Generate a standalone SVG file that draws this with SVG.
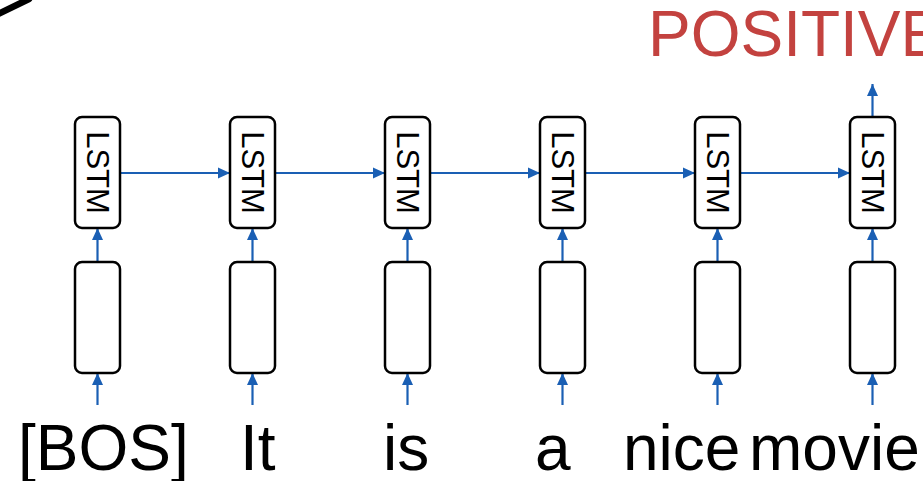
<svg xmlns="http://www.w3.org/2000/svg" width="923" height="481" viewBox="0 0 923 481">
  <style>
    .box { fill: #fff; stroke: #000; stroke-width: 2.5; }
    .lbl { font-family: "Liberation Sans", Arial, sans-serif; font-size: 31px; fill: #000; text-anchor: middle; dominant-baseline: central; }
    .word { font-family: "Liberation Sans", Arial, sans-serif; font-size: 64px; fill: #000; }
    .out { font-family: "Liberation Sans", Arial, sans-serif; font-size: 64px; fill: #c3423f; }
    .link { stroke: #1a5fb4; stroke-width: 2.2; fill: none; marker-end: url(#arr); }
  </style>
  <defs>
    <marker id="arr" markerUnits="userSpaceOnUse" markerWidth="12" markerHeight="12" viewBox="0 0 12 12" refX="12" refY="6" orient="auto">
      <path d="M0,0.5 L12,6 L0,11.5 Z" fill="#1a5fb4"/>
    </marker>
  </defs>
  <rect width="923" height="481" fill="#fff"/>

  <!-- pen stroke in the corner -->
  <path d="M-2,14 L29,-1" stroke="#000" stroke-width="6.5" fill="none" stroke-linecap="round"/>

  <!-- output label -->
  <text class="out" x="648" y="56">POSITIVE</text>

  <!-- connectors -->
  <g id="connectors">
    <line class="link" x1="97.5" y1="405" x2="97.5" y2="373"/>
    <line class="link" x1="252.5" y1="405" x2="252.5" y2="373"/>
    <line class="link" x1="407.5" y1="405" x2="407.5" y2="373"/>
    <line class="link" x1="562.5" y1="405" x2="562.5" y2="373"/>
    <line class="link" x1="717.5" y1="405" x2="717.5" y2="373"/>
    <line class="link" x1="872.5" y1="405" x2="872.5" y2="373"/>

    <line class="link" x1="97.5" y1="262" x2="97.5" y2="228"/>
    <line class="link" x1="252.5" y1="262" x2="252.5" y2="228"/>
    <line class="link" x1="407.5" y1="262" x2="407.5" y2="228"/>
    <line class="link" x1="562.5" y1="262" x2="562.5" y2="228"/>
    <line class="link" x1="717.5" y1="262" x2="717.5" y2="228"/>
    <line class="link" x1="872.5" y1="262" x2="872.5" y2="228"/>

    <line class="link" x1="120" y1="173" x2="230" y2="173"/>
    <line class="link" x1="275" y1="173" x2="385" y2="173"/>
    <line class="link" x1="430" y1="173" x2="540" y2="173"/>
    <line class="link" x1="585" y1="173" x2="695" y2="173"/>
    <line class="link" x1="740" y1="173" x2="850" y2="173"/>

    <line class="link" x1="872.5" y1="117" x2="872.5" y2="84"/>
  </g>

  <!-- LSTM cells -->
  <g id="lstm0"><rect class="box" x="75" y="117" width="45" height="111" rx="7"/><text class="lbl" transform="translate(97.5,172.5) rotate(90)">LSTM</text></g>
  <g id="lstm1"><rect class="box" x="230" y="117" width="45" height="111" rx="7"/><text class="lbl" transform="translate(252.5,172.5) rotate(90)">LSTM</text></g>
  <g id="lstm2"><rect class="box" x="385" y="117" width="45" height="111" rx="7"/><text class="lbl" transform="translate(407.5,172.5) rotate(90)">LSTM</text></g>
  <g id="lstm3"><rect class="box" x="540" y="117" width="45" height="111" rx="7"/><text class="lbl" transform="translate(562.5,172.5) rotate(90)">LSTM</text></g>
  <g id="lstm4"><rect class="box" x="695" y="117" width="45" height="111" rx="7"/><text class="lbl" transform="translate(717.5,172.5) rotate(90)">LSTM</text></g>
  <g id="lstm5"><rect class="box" x="850" y="117" width="45" height="111" rx="7"/><text class="lbl" transform="translate(872.5,172.5) rotate(90)">LSTM</text></g>

  <!-- embedding cells -->
  <g id="emb0"><rect class="box" x="75" y="262" width="45" height="111" rx="7"/></g>
  <g id="emb1"><rect class="box" x="230" y="262" width="45" height="111" rx="7"/></g>
  <g id="emb2"><rect class="box" x="385" y="262" width="45" height="111" rx="7"/></g>
  <g id="emb3"><rect class="box" x="540" y="262" width="45" height="111" rx="7"/></g>
  <g id="emb4"><rect class="box" x="695" y="262" width="45" height="111" rx="7"/></g>
  <g id="emb5"><rect class="box" x="850" y="262" width="45" height="111" rx="7"/></g>

  <!-- input tokens -->
  <g id="tokens">
    <text class="word" x="18" y="470">[BOS]</text>
    <text class="word" x="240" y="470">It</text>
    <text class="word" x="383" y="470">is</text>
    <text class="word" x="535" y="470">a</text>
    <text class="word" x="623" y="470">nice</text>
    <text class="word" x="749" y="470">movie</text>
  </g>
</svg>
